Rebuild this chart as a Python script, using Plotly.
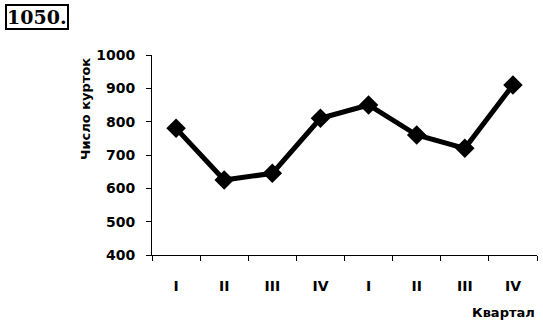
import plotly.graph_objects as go

quarters = ["I", "II", "III", "IV", "I", "II", "III", "IV"]
jackets = [780, 625, 645, 810, 850, 760, 720, 910]
y_ticks = [400, 500, 600, 700, 800, 900, 1000]

xpos = list(range(len(quarters)))

fig = go.Figure()
fig.add_trace(go.Scatter(
    x=xpos, y=jackets, mode="lines+markers",
    line=dict(color="black", width=5),
    marker=dict(symbol="diamond", size=15, color="black"),
    showlegend=False,
))

tickfont = dict(family="DejaVu Sans", size=14, color="black", weight="bold")

fig.update_layout(
    width=543, height=324,
    margin=dict(l=152, r=6, t=55, b=69),
    paper_bgcolor="white", plot_bgcolor="white",
    xaxis=dict(
        range=[-0.5, len(quarters) - 0.5],
        tickmode="array", tickvals=xpos, ticktext=quarters,
        ticks="", showgrid=False, zeroline=False,
        showline=True, linecolor="black", linewidth=1,
        tickfont=tickfont, ticklabelstandoff=18,
        minor=dict(tickmode="linear", tick0=-0.5, dtick=1, ticks="outside",
                   ticklen=5, tickcolor="black", showgrid=False),
    ),
    yaxis=dict(
        range=[400, 1000], tickmode="array", tickvals=y_ticks,
        ticks="outside", ticklen=5, tickcolor="black",
        showgrid=False, zeroline=False,
        showline=True, linecolor="black", linewidth=1,
        tickfont=tickfont, ticklabelstandoff=8,
    ),
    annotations=[
        dict(text="1050.", xref="paper", yref="paper", x=-147/385, y=1 + 51/200,
             xanchor="left", yanchor="top", showarrow=False,
             font=dict(family="DejaVu Serif", size=19, color="black", weight="bold"),
             bordercolor="black", borderwidth=2, borderpad=0),
        dict(text="Число курток", xref="paper", yref="paper", x=-67/385, y=0.73,
             xanchor="center", yanchor="middle", textangle=-90, showarrow=False,
             font=dict(family="DejaVu Sans", size=13, color="black", weight="bold")),
        dict(text="Квартал", xref="paper", yref="paper", x=1.0, y=-57/200,
             xanchor="right", yanchor="middle", showarrow=False,
             font=dict(family="DejaVu Sans", size=13, color="black", weight="bold")),
    ],
)

fig.write_html("out.html")
